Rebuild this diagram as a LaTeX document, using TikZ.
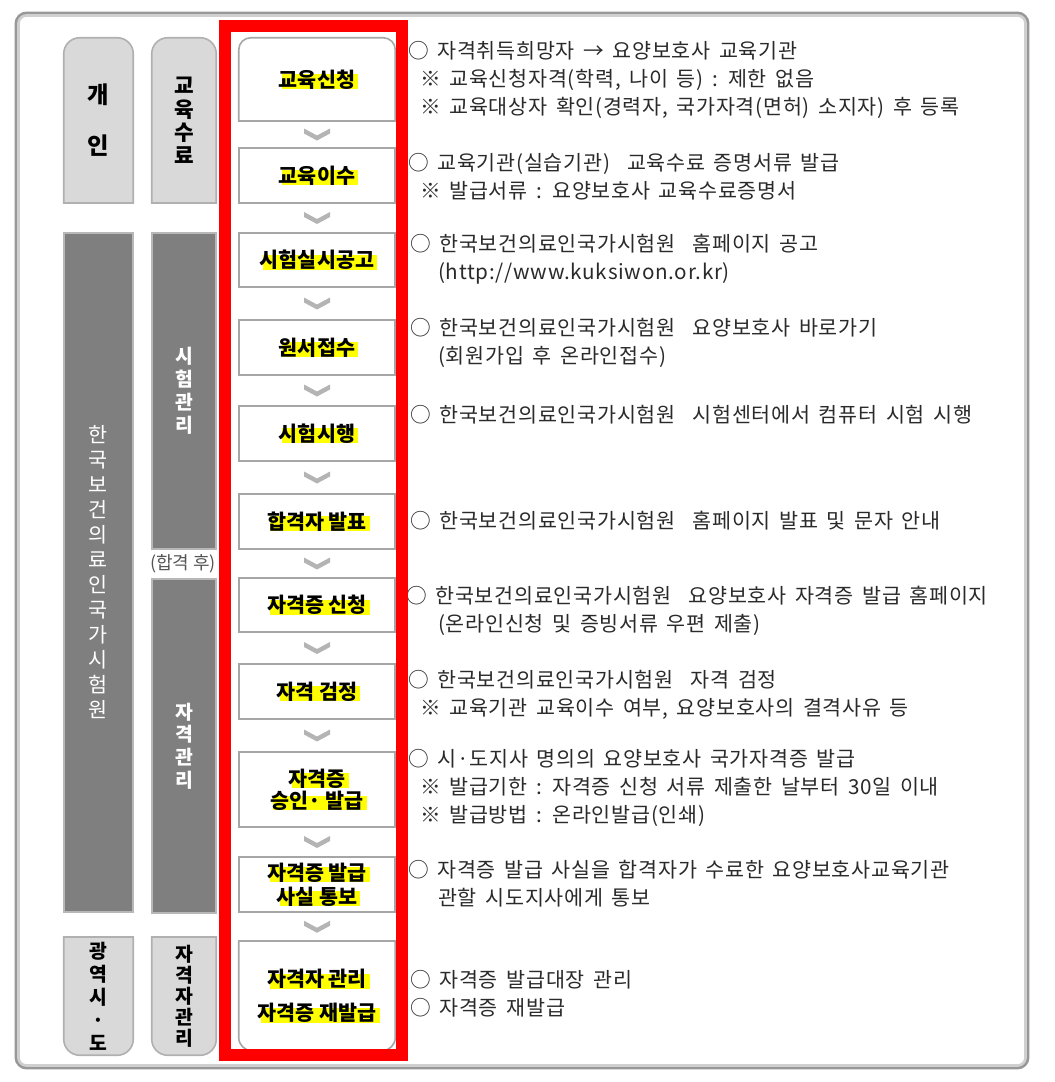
\documentclass[tikz,border=0pt]{standalone}
\usepackage{fontspec}
\newfontfamily\kr{Noto Sans CJK KR}
\newfontfamily\krt[LetterSpace=3.5,WordSpace=1.6]{Noto Sans CJK KR}
\usetikzlibrary{calc,backgrounds}
\definecolor{hly}{HTML}{FFFF00}
\definecolor{lightfill}{HTML}{D9D9D9}
\definecolor{lightline}{HTML}{B0B0B0}
\definecolor{darkfill}{HTML}{7F7F7F}
\definecolor{darkline}{HTML}{B8B8B8}
\definecolor{boxline}{HTML}{A6A6A6}
\definecolor{chevcol}{HTML}{B4B4B4}
\definecolor{txtgray}{HTML}{2A2A2A}
\definecolor{redframe}{HTML}{FF0000}
\newlength\hlw
\newcommand\hl[1]{\settowidth{\hlw}{#1}\makebox[0pt][l]{\hspace{0.15em}\textcolor{hly}{\rule[-0.1em]{\hlw}{0.72em}}}#1}
\begin{document}
\begin{tikzpicture}[x=0.75pt,y=-0.75pt,
  flow/.style={minimum width=117pt, inner sep=0pt, align=center,
    font=\kr\bfseries\fontsize{15.5pt}{18pt}\selectfont},
  lcol/.style={minimum width=51.75pt, inner sep=0pt, align=center},
  rcol/.style={minimum width=48pt, inner sep=0pt, align=center},
  rt/.style={anchor=west, inner sep=0pt, font=\krt\fontsize{15.5pt}{18pt}\selectfont,
    text=txtgray, text height=12pt, text depth=3pt},
  chev/.pic={\fill[chevcol] (-13,-6) -- (0,1) -- (13,-6) -- (13,-1) -- (0,6) -- (-13,-1) -- cycle;}
]
\useasboundingbox (0,0) rectangle (1054,1082);

% flow boxes
\node[flow, minimum height=62.25pt] (b1) at (317,79.5) {\hl{교육신청}};
\node[flow, minimum height=41.25pt] (b2) at (317,175.5) {\hl{교육이수}};
\node[flow, minimum height=40.5pt] (b3) at (317,260) {\hl{시험실시공고}};
\node[flow, minimum height=41.25pt] (b4) at (317,347.5) {\hl{원서접수}};
\node[flow, minimum height=41.25pt] (b5) at (317,433.5) {\hl{시험시행}};
\node[flow, minimum height=41.25pt] (b6) at (317,521.5) {\hl{합격자 발표}};
\node[flow, minimum height=40.5pt] (b7) at (317,605) {\hl{자격증 신청}};
\node[flow, minimum height=41.25pt] (b8) at (317,691.5) {\hl{자격 검정}};
\node[flow, minimum height=56.25pt, font=\kr\bfseries\fontsize{15.5pt}{16.8pt}\selectfont] (b9) at (317,789.5) {\hl{자격증}\\\hl{승인· 발급}};
\node[flow, minimum height=41.25pt, font=\kr\bfseries\fontsize{15.5pt}{18pt}\selectfont] (b10) at (317,884.5) {\hl{자격증 발급}\\\hl{사실 통보}};
\node[flow, minimum height=81.75pt, font=\kr\bfseries\fontsize{15.5pt}{25.5pt}\selectfont] (b11) at (317,996) {\hl{자격자 관리}\\\hl{자격증 재발급}};

% chevrons between steps
\path ($(b1.south)!0.5!(b2.north)$) pic{chev};
\path ($(b2.south)!0.5!(b3.north)$) pic{chev};
\path ($(b3.south)!0.5!(b4.north)$) pic{chev};
\path ($(b4.south)!0.5!(b5.north)$) pic{chev};
\path ($(b5.south)!0.5!(b6.north)$) pic{chev};
\path ($(b6.south)!0.5!(b7.north)$) pic{chev};
\path ($(b7.south)!0.5!(b8.north)$) pic{chev};
\path ($(b8.south)!0.5!(b9.north)$) pic{chev};
\path ($(b9.south)!0.5!(b10.north)$) pic{chev};
\path ($(b10.south)!0.5!(b11.north)$) pic{chev};

% left columns
\node[lcol, minimum height=123.75pt, font=\kr\bfseries\fontsize{17.5pt}{38.25pt}\selectfont] (L1) at (98.5,120.5) {개\\인};
\node[rcol, minimum height=123.75pt, font=\kr\bfseries\fontsize{16pt}{17.6pt}\selectfont] (L2) at (184,120.5) {교\\육\\수\\료};
\node[lcol, minimum height=509.25pt, text=white, font=\kr\fontsize{15.5pt}{18.75pt}\selectfont] (D1) at (98.5,572.5) {한\\국\\보\\건\\의\\료\\인\\국\\가\\시\\험\\원};
\node[rcol, minimum height=237pt, text=white, font=\kr\bfseries\fontsize{14.5pt}{17.25pt}\selectfont] (D2) at (184,391) {시\\험\\관\\리};
\node[inner sep=0pt, text=txtgray!80, font=\kr\fontsize{13.5pt}{15pt}\selectfont] (after) at (183,564) {(합격 후)};
\node[rcol, minimum height=250.5pt, text=white, font=\kr\bfseries\fontsize{14.5pt}{16.9pt}\selectfont] (D3) at (184,746) {자\\격\\관\\리};
\node[lcol, minimum height=88.5pt, font=\kr\bfseries\fontsize{14.5pt}{17.25pt}\selectfont] (L3) at (98.5,996) {광\\역\\시\\·\\도};
\node[rcol, minimum height=88.5pt, font=\kr\bfseries\fontsize{14.5pt}{15.75pt}\selectfont] (L4) at (184,996) {자\\격\\자\\관\\리};

% right-hand descriptions
\node[rt] (r1) at (408,52) {○ 자격취득희망자 → 요양보호사 교육기관};
\node[rt] (r2) at (420,80) {※ 교육신청자격(학력, 나이 등) : 제한 없음};
\node[rt] (r3) at (420,108) {※ 교육대상자 확인(경력자, 국가자격(면허) 소지자) 후 등록};
\node[rt] (r4) at (408,164) {○ 교육기관(실습기관)\ \ 교육수료 증명서류 발급};
\node[rt] (r5) at (420,192) {※ 발급서류 : 요양보호사 교육수료증명서};
\node[rt] (r6) at (410,245) {○ 한국보건의료인국가시험원\ \ 홈페이지 공고};
\node[rt] (r7) at (438,273) {(http://www.kuksiwon.or.kr)};
\node[rt] (r8) at (410,329) {○ 한국보건의료인국가시험원\ \ 요양보호사 바로가기};
\node[rt] (r9) at (438,357) {(회원가입 후 온라인접수)};
\node[rt] (r10) at (410,416) {○ 한국보건의료인국가시험원\ \ 시험센터에서 컴퓨터 시험 시행};
\node[rt] (r11) at (410,522) {○ 한국보건의료인국가시험원\ \ 홈페이지 발표 및 문자 안내};
\node[rt] (r12) at (406,597) {○ 한국보건의료인국가시험원\ \ 요양보호사 자격증 발급 홈페이지};
\node[rt] (r13) at (438,625) {(온라인신청 및 증빙서류 우편 제출)};
\node[rt] (r14) at (408,681) {○ 한국보건의료인국가시험원\ \ 자격 검정};
\node[rt] (r15) at (420,709) {※ 교육기관 교육이수 여부, 요양보호사의 결격사유 등};
\node[rt] (r16) at (408,760) {○ 시·도지사 명의의 요양보호사 국가자격증 발급};
\node[rt] (r17) at (420,788) {※ 발급기한 : 자격증 신청 서류 제출한 날부터 30일 이내};
\node[rt] (r18) at (420,816) {※ 발급방법 : 온라인발급(인쇄)};
\node[rt] (r19) at (408,871) {○ 자격증 발급 사실을 합격자가 수료한 요양보호사교육기관};
\node[rt] (r20) at (438,899) {관할 시도지사에게 통보};
\node[rt] (r21) at (410,981) {○ 자격증 발급대장 관리};
\node[rt] (r22) at (410,1009) {○ 자격증 재발급};

% red emphasis frame
\draw[redframe, line width=9pt] (225,26) rectangle (402,1055);

\begin{pgfonlayer}{background}
  \fill[white] (0,0) rectangle (1054,1082);
  % outer frame
  \draw[darkfill!80, line width=2.2pt, rounded corners=8] (16,13) rectangle (1028,1068);
  \draw[lightline!60, line width=2pt, rounded corners=6] (18.5,15.5) rectangle (1025.5,1065.5);
  % flow boxes outlines
  \foreach \n in {b2,b3,b4,b5,b6,b7,b8,b9,b10}{
    \draw[boxline, line width=1.2pt, fill=white] (\n.south west) rectangle (\n.north east);
  }
  \path[fill=white, draw=boxline, line width=1.2pt, rounded corners=9] (b1.south west) -- (b1.north west) -- (b1.north east) -- (b1.south east);
  \draw[boxline, line width=1.2pt, line cap=rect] (b1.south west) -- (b1.south east);
  \path[fill=white, draw=boxline, line width=1.2pt, rounded corners=10] (b11.north west) -- (b11.south west) -- (b11.south east) -- (b11.north east);
  \draw[boxline, line width=1.2pt, line cap=rect] (b11.north west) -- (b11.north east);
  % light rounded columns
  \foreach \n in {L1,L2}{
    \path[fill=lightfill, draw=lightline, line width=1.2pt, rounded corners=12] (\n.south west) -- (\n.north west) -- (\n.north east) -- (\n.south east);
    \draw[lightline, line width=1.2pt, line cap=rect] (\n.south west) -- (\n.south east);
  }
  \foreach \n in {L3,L4}{
    \path[fill=lightfill, draw=lightline, line width=1.2pt, rounded corners=12] (\n.north west) -- (\n.south west) -- (\n.south east) -- (\n.north east);
    \draw[lightline, line width=1.2pt, line cap=rect] (\n.north west) -- (\n.north east);
  }
  % dark columns
  \foreach \n in {D1,D2,D3}{
    \draw[darkline, line width=1.2pt, fill=darkfill] (\n.south west) rectangle (\n.north east);
  }
\end{pgfonlayer}
\end{tikzpicture}
\end{document}
